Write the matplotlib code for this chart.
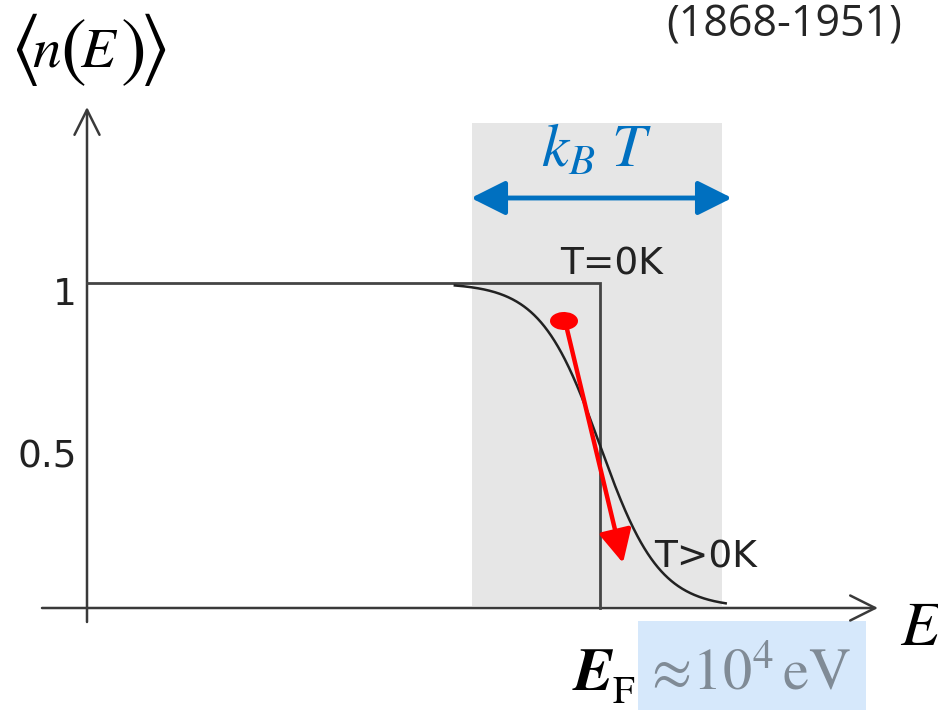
import numpy as np
import matplotlib
matplotlib.use("Agg")
import matplotlib.pyplot as plt
from matplotlib.patches import Rectangle, Ellipse

plt.rcParams['mathtext.fontset'] = 'stix'

# Physical parameters (energies in units of E_F)
E_F = 1.0
kT = 0.058

# Energy grid for the T > 0 curve
E_curve = np.linspace(0.717, 1.245, 400)
occ_curve = 1.0 / (np.exp((E_curve - E_F) / kT) + 1.0)

# T = 0 step function
E_step = [0.0, E_F, E_F]
occ_step = [1.0, 1.0, 0.0]

# Occupancy ticks
ytick_values = [1.0, 0.5]
ytick_labels = ["1", "0.5"]

# Thermal window around E_F
window_lo, window_hi = 0.7505, 1.2378

fig = plt.figure(figsize=(9.38, 7.10), dpi=100)
ax = fig.add_axes([0, 0, 1, 1])
ax.set_xlim(-87 / 513, (938 - 87) / 513)
ax.set_ylim(-(710 - 608) / 325, 608 / 325)
ax.axis('off')

# pixel helpers for annotation placement
px = lambda x: (x - 87) / 513
py = lambda y: (608 - y) / 325

# shaded thermal window
ax.add_patch(Rectangle((window_lo, py(606)), window_hi - window_lo, py(123) - py(606),
                       facecolor='#E6E6E6', edgecolor='none', zorder=0))

# highlight box behind the Fermi energy value
ax.add_patch(Rectangle((px(638), py(710)), px(866) - px(638), py(621) - py(710),
                       facecolor='#D6E8FB', edgecolor='none', zorder=0))

# axes arrows
axis_col = '#3a3a3a'
ax.annotate('', xy=(px(878), 0), xytext=(px(42), 0),
            arrowprops=dict(arrowstyle='->,head_length=0.6,head_width=0.3', lw=1.8,
                            color=axis_col, shrinkA=0, shrinkB=0, mutation_scale=30), zorder=2)
ax.annotate('', xy=(0, py(107)), xytext=(0, py(622)),
            arrowprops=dict(arrowstyle='->,head_length=0.6,head_width=0.3', lw=1.8,
                            color=axis_col, shrinkA=0, shrinkB=0, mutation_scale=30), zorder=2)

# distributions
ax.plot(E_step, occ_step, color='#444444', lw=2.0, zorder=3, solid_joinstyle='miter')
ax.plot(E_curve, occ_curve, color='#222222', lw=1.8, zorder=3)

# tick labels
for v, lab in zip(ytick_values, ytick_labels):
    ax.text(px(77), v - 22 / 325, lab, ha='right', va='baseline', fontsize=27,
            color='#222222', family='DejaVu Sans')

# curve labels
ax.text(px(560), py(275), "T=0K", ha='left', va='baseline', fontsize=27,
        color='#222222', family='DejaVu Sans')
ax.text(px(654), py(568), "T>0K", ha='left', va='baseline', fontsize=27,
        color='#222222', family='DejaVu Sans')

# thermal width arrow and label
blue = '#0070C0'
ax.annotate('', xy=(px(732), py(198)), xytext=(px(471), py(198)),
            arrowprops=dict(arrowstyle='<|-|>,head_length=1.4,head_width=0.7', lw=3.5,
                            color=blue, shrinkA=0, shrinkB=0, mutation_scale=15), zorder=4)
ax.text(px(597), py(167), r'$k_B\ T$', ha='center', va='baseline', fontsize=44, color=blue)

# red marker arrow
ax.add_patch(Ellipse((px(564), py(321)), 28 / 513, 18 / 325, angle=8,
                     facecolor='#FF0000', edgecolor='none', zorder=5))
ax.annotate('', xy=(px(623), py(563)), xytext=(px(566), py(325)),
            arrowprops=dict(arrowstyle='-|>,head_length=1.0,head_width=0.5', lw=3.2,
                            color='#FF0000', shrinkA=0, shrinkB=0, mutation_scale=20), zorder=5)

# vertical axis title <n(E)> with tall delimiters
big, small = 56, 41
ax.text(px(10), py(50), r'$\langle$', ha='left', va='center', fontsize=big)
ax.text(px(32), py(67), r'$n$', ha='left', va='baseline', fontsize=small)
ax.text(px(60), py(50), r'$($', ha='left', va='center', fontsize=big)
ax.text(px(80), py(67), r'$E$', ha='left', va='baseline', fontsize=small)
ax.text(px(120), py(50), r'$)$', ha='left', va='center', fontsize=big)
ax.text(px(139), py(50), r'$\rangle$', ha='left', va='center', fontsize=big)

# horizontal axis title
ax.text(px(900), py(645), r'$E$', ha='left', va='baseline', fontsize=46, color='black')

# Fermi energy
ax.text(px(574), py(690), 'E', ha='left', va='baseline', fontsize=43, family='STIXGeneral',
        style='italic', weight='bold', color='black')
ax.text(px(613), py(703), 'F', ha='left', va='baseline', fontsize=28, family='STIXGeneral',
        color='black')
ax.text(px(643), py(690), r'$\approx\!10^{4}\,\mathrm{eV}$', ha='left', va='baseline',
        fontsize=42, color='#808B96')

# lifespan note
fig.text(902 / 938, 1 - 37 / 710, "(1868-1951)", fontsize=31, family='Open Sans',
         color='#262626', ha='right', va='baseline')

fig.savefig('out.png', dpi=100)
